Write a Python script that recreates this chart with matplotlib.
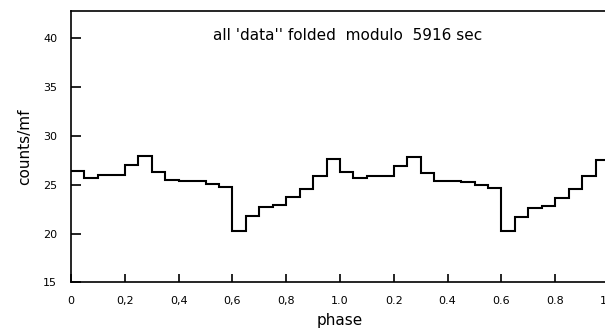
import numpy as np
import matplotlib
matplotlib.use("Agg")
import matplotlib.pyplot as plt

# counts per bin (phase bin width 0.05), two folded cycles as drawn
cycle1 = [26.43, 25.72, 26.00, 26.00, 27.02, 27.97, 26.33, 25.45, 25.41, 25.38,
          25.07, 24.80, 20.26, 21.79, 22.68, 22.88, 23.70, 24.59, 25.92, 27.63]
cycle2 = [26.33, 25.68, 25.89, 25.89, 26.95, 27.79, 26.20, 25.38, 25.33, 25.28,
          24.97, 24.66, 20.23, 21.72, 22.65, 22.82, 23.67, 24.56, 25.86, 27.53]
bin_width = 0.05
xtick_pos = [0, 0.2, 0.4, 0.6, 0.8, 1.0, 1.2, 1.4, 1.6, 1.8, 2.0]
xtick_labels = ["0", "0,2", "0,4", "0,6", "0,8", "1.0", "0.2", "0.4", "0.6", "0.8", "1.0"]
ytick_pos = [15, 20, 25, 30, 35, 40]
ytick_labels = ["15", "20", "25", "30", "35", "40"]
title = "all 'data'' folded  modulo  5916 sec"

values = np.array(cycle1 + cycle2)
edges = np.arange(len(values) + 1) * bin_width

W, H = 605, 328
fig = plt.figure(figsize=(W / 100, H / 100), dpi=100)
ax = fig.add_axes([71 / W, (H - 282.3) / H, (609 - 71) / W, (282.3 - 11) / H])

ax.stairs(values, edges, baseline=None, color="black", linewidth=1.5)

ax.set_xlim(0, 2.0)
ax.set_ylim(15, 42.8)
ax.set_xticks(xtick_pos)
ax.set_xticklabels(xtick_labels)
ax.set_yticks(ytick_pos)
ax.set_yticklabels(ytick_labels)

ax.tick_params(axis="y", direction="in", length=7.5, width=1.2, pad=10, labelsize=8)
ax.tick_params(axis="x", direction="in", length=6, width=1.2, pad=10, labelsize=8)
ax.spines["right"].set_visible(False)
for s in ["left", "bottom", "top"]:
    ax.spines[s].set_linewidth(1.2)

ax.set_xlabel("phase", fontsize=11, labelpad=5)
ax.set_ylabel("counts/mf", fontsize=11, labelpad=8)

fig.text(348 / W, 1 - 35 / H, title, ha="center", va="center", fontsize=11)

fig.savefig("out.png", dpi=100)
